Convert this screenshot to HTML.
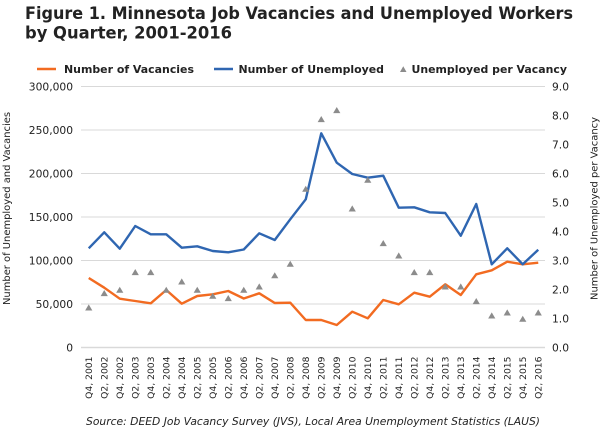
<!DOCTYPE html>
<html><head><meta charset="utf-8"><style>
html,body{margin:0;padding:0;background:#fff;}
svg{display:block;}
text{font-family:"DejaVu Sans","Liberation Sans",sans-serif;fill:#222;}
</style></head><body>
<svg width="600" height="429" viewBox="0 0 600 429" xmlns="http://www.w3.org/2000/svg">
<defs>
<path id="tri" d="M-3.6,2.8 L3.6,2.8 L0,-3.3 Z" fill="#8c8c8c"/>
</defs>
<!-- Title -->
<text x="25" y="19" font-size="17" font-weight="bold" textLength="548" lengthAdjust="spacingAndGlyphs">Figure 1. Minnesota Job Vacancies and Unemployed Workers</text>
<text x="25" y="38.5" font-size="17" font-weight="bold" textLength="207" lengthAdjust="spacingAndGlyphs">by Quarter, 2001-2016</text>
<!-- Legend -->
<line x1="37" y1="69" x2="56" y2="69" stroke="#f26b21" stroke-width="2.5"/>
<text x="64" y="73" font-size="11" font-weight="bold" textLength="130" lengthAdjust="spacingAndGlyphs">Number of Vacancies</text>
<line x1="214" y1="69" x2="233" y2="69" stroke="#2f66b1" stroke-width="2.5"/>
<text x="238.5" y="73" font-size="11" font-weight="bold" textLength="145.5" lengthAdjust="spacingAndGlyphs">Number of Unemployed</text>
<path d="M400,72 L406.5,72 L403.25,66.3 Z" fill="#8c8c8c"/>
<text x="411.5" y="73" font-size="11" font-weight="bold" textLength="155.5" lengthAdjust="spacingAndGlyphs">Unemployed per Vacancy</text>
<!-- Gridlines -->
<g stroke="#d9d9d9" stroke-width="1">
<line x1="81" y1="86.5" x2="545" y2="86.5"/>
<line x1="81" y1="130" x2="545" y2="130"/>
<line x1="81" y1="173.5" x2="545" y2="173.5"/>
<line x1="81" y1="217" x2="545" y2="217"/>
<line x1="81" y1="260.5" x2="545" y2="260.5"/>
<line x1="81" y1="304" x2="545" y2="304"/>
</g>
<line x1="81" y1="347.5" x2="545" y2="347.5" stroke="#d9d9d9" stroke-width="1.5"/>
<!-- Left ticks -->
<g font-size="10.7" text-anchor="end">
<text x="73" y="90.5">300,000</text>
<text x="73" y="134">250,000</text>
<text x="73" y="177.5">200,000</text>
<text x="73" y="221">150,000</text>
<text x="73" y="264.5">100,000</text>
<text x="73" y="308">50,000</text>
<text x="73" y="351.5">0</text>
</g>
<!-- Right ticks -->
<g font-size="10.7">
<text x="552" y="90.5">9.0</text>
<text x="552" y="119.5">8.0</text>
<text x="552" y="148.5">7.0</text>
<text x="552" y="177.5">6.0</text>
<text x="552" y="206.5">5.0</text>
<text x="552" y="235.5">4.0</text>
<text x="552" y="264.5">3.0</text>
<text x="552" y="293.5">2.0</text>
<text x="552" y="322.5">1.0</text>
<text x="552" y="351.5">0.0</text>
</g>
<!-- Axis titles -->
<text transform="translate(10,208.5) rotate(-90)" font-size="9.6" text-anchor="middle" textLength="193" lengthAdjust="spacingAndGlyphs">Number of Unemployed and Vacancies</text>
<text transform="translate(597.5,208.5) rotate(-90)" font-size="9.6" text-anchor="middle" textLength="183" lengthAdjust="spacingAndGlyphs">Number of Unemployed per Vacancy</text>
<!-- X labels -->
<g font-size="9.2" text-anchor="end">
<text transform="translate(91.75,356.5) rotate(-90)">Q4, 2001</text>
<text transform="translate(107.25,356.5) rotate(-90)">Q2, 2002</text>
<text transform="translate(122.75,356.5) rotate(-90)">Q4, 2002</text>
<text transform="translate(138.25,356.5) rotate(-90)">Q2, 2003</text>
<text transform="translate(153.75,356.5) rotate(-90)">Q4, 2003</text>
<text transform="translate(169.25,356.5) rotate(-90)">Q2, 2004</text>
<text transform="translate(184.75,356.5) rotate(-90)">Q4, 2004</text>
<text transform="translate(200.25,356.5) rotate(-90)">Q2, 2005</text>
<text transform="translate(215.75,356.5) rotate(-90)">Q4, 2005</text>
<text transform="translate(231.25,356.5) rotate(-90)">Q2, 2006</text>
<text transform="translate(246.75,356.5) rotate(-90)">Q4, 2006</text>
<text transform="translate(262.25,356.5) rotate(-90)">Q2, 2007</text>
<text transform="translate(277.75,356.5) rotate(-90)">Q4, 2007</text>
<text transform="translate(293.25,356.5) rotate(-90)">Q2, 2008</text>
<text transform="translate(308.75,356.5) rotate(-90)">Q4, 2008</text>
<text transform="translate(324.25,356.5) rotate(-90)">Q2, 2009</text>
<text transform="translate(339.75,356.5) rotate(-90)">Q4, 2009</text>
<text transform="translate(355.25,356.5) rotate(-90)">Q2, 2010</text>
<text transform="translate(370.75,356.5) rotate(-90)">Q4, 2010</text>
<text transform="translate(386.25,356.5) rotate(-90)">Q2, 2011</text>
<text transform="translate(401.75,356.5) rotate(-90)">Q4, 2011</text>
<text transform="translate(417.25,356.5) rotate(-90)">Q2, 2012</text>
<text transform="translate(432.75,356.5) rotate(-90)">Q4, 2012</text>
<text transform="translate(448.25,356.5) rotate(-90)">Q2, 2013</text>
<text transform="translate(463.75,356.5) rotate(-90)">Q4, 2013</text>
<text transform="translate(479.25,356.5) rotate(-90)">Q2, 2014</text>
<text transform="translate(494.75,356.5) rotate(-90)">Q4, 2014</text>
<text transform="translate(510.25,356.5) rotate(-90)">Q2, 2015</text>
<text transform="translate(525.75,356.5) rotate(-90)">Q4, 2015</text>
<text transform="translate(541.25,356.5) rotate(-90)">Q2, 2016</text>
</g>
<!-- Series -->
<polyline fill="none" stroke="#f26b21" stroke-width="2.4" stroke-linejoin="round" points="88.75,278 104.25,287.7 119.75,298.7 135.25,301 150.75,303.3 166.25,290 181.75,303.7 197.25,296 212.75,294.3 228.25,291 243.75,298.5 259.25,293.3 274.75,303 290.25,302.7 305.75,320 321.25,320 336.75,325 352.25,311.7 367.75,318.3 383.25,300 398.75,304.3 414.25,292.7 429.75,296.7 445.25,284.3 460.75,295 476.25,274.3 491.75,270.3 507.25,261.7 522.75,264.3 538.25,262.7"/>
<polyline fill="none" stroke="#2f66b1" stroke-width="2.4" stroke-linejoin="round" points="88.75,248.3 104.25,232.3 119.75,248.7 135.25,226 150.75,234.3 166.25,234.3 181.75,247.7 197.25,246.3 212.75,251 228.25,252.3 243.75,249.5 259.25,233.3 274.75,240 290.25,219.3 305.75,199.3 321.25,133.3 336.75,162.7 352.25,174 367.75,177.7 383.25,175.7 398.75,207.7 414.25,207.3 429.75,212.3 445.25,213 460.75,235.7 476.25,204 491.75,264.3 507.25,248.3 522.75,264.3 538.25,249.7"/>
<g>
<use href="#tri" x="88.75" y="307.7"/>
<use href="#tri" x="104.25" y="293.3"/>
<use href="#tri" x="119.75" y="290"/>
<use href="#tri" x="135.25" y="272.3"/>
<use href="#tri" x="150.75" y="272.3"/>
<use href="#tri" x="166.25" y="290"/>
<use href="#tri" x="181.75" y="281.7"/>
<use href="#tri" x="197.25" y="290"/>
<use href="#tri" x="212.75" y="296"/>
<use href="#tri" x="228.25" y="298.3"/>
<use href="#tri" x="243.75" y="290"/>
<use href="#tri" x="259.25" y="286.7"/>
<use href="#tri" x="274.75" y="275.5"/>
<use href="#tri" x="290.25" y="264"/>
<use href="#tri" x="305.75" y="189"/>
<use href="#tri" x="321.25" y="119.3"/>
<use href="#tri" x="336.75" y="110.3"/>
<use href="#tri" x="352.25" y="208.7"/>
<use href="#tri" x="367.75" y="180"/>
<use href="#tri" x="383.25" y="243.3"/>
<use href="#tri" x="398.75" y="255.7"/>
<use href="#tri" x="414.25" y="272.3"/>
<use href="#tri" x="429.75" y="272.3"/>
<use href="#tri" x="445.25" y="286.7"/>
<use href="#tri" x="460.75" y="286.7"/>
<use href="#tri" x="476.25" y="301.3"/>
<use href="#tri" x="491.75" y="315.7"/>
<use href="#tri" x="507.25" y="312.7"/>
<use href="#tri" x="522.75" y="319"/>
<use href="#tri" x="538.25" y="312.7"/>
</g>
<!-- Source -->
<text x="86" y="425" font-size="10.7" font-style="italic" textLength="454" lengthAdjust="spacingAndGlyphs">Source: DEED Job Vacancy Survey (JVS), Local Area Unemployment Statistics (LAUS)</text>
</svg>
</body></html>
